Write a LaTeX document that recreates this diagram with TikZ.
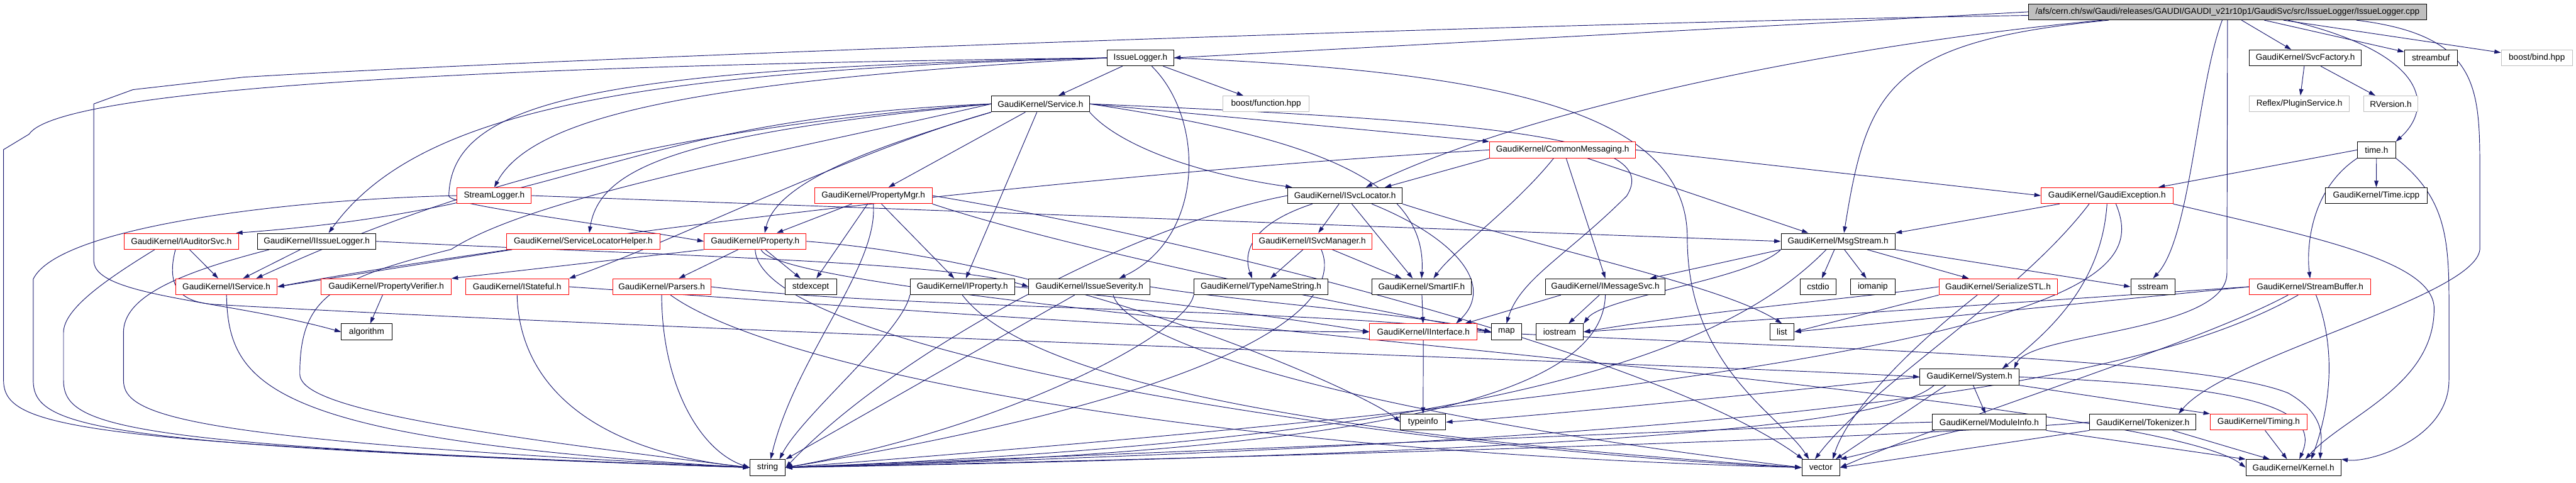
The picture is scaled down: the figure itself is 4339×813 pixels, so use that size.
\documentclass[tikz,border=0pt]{standalone}
\usepackage{fontspec}
\setmainfont{Liberation Sans}
\usepackage{tikz}
\usetikzlibrary{arrows.meta,backgrounds}
\definecolor{edgeblue}{RGB}{25,25,112}
\definecolor{docred}  {RGB}{255,0,0}
\definecolor{extgray} {RGB}{191,191,191}

\begin{document}
\begin{tikzpicture}[
  x=1pt, y=-1pt,
  font=\fontsize{14.4}{17}\selectfont,
  >={Triangle[length=11pt,width=7pt]},
  filebox/.style={draw=black, fill=white, line width=1pt,
                  minimum height=27pt, inner xsep=2pt, inner ysep=0pt},
  redbox/.style={filebox, draw=docred},
  extbox/.style={filebox, draw=extgray},
  rootbox/.style={filebox, fill=extgray},
  inc/.style={draw=edgeblue, line width=1pt, ->},
]
\useasboundingbox (0,0) rectangle (4339,813);

% Top
\node[rootbox, minimum width=670] (root) at (3752,20) {/afs/cern.ch/sw/Gaudi/releases/GAUDI/GAUDI\_v21r10p1/GaudiSvc/src/IssueLogger/IssueLogger.cpp};

% Row 1
\node[filebox, minimum width=112] (il)   at (1921,97.5)   {IssueLogger.h};
\node[filebox, minimum width=188] (svcf) at (3883,97.5)   {GaudiKernel/SvcFactory.h};
\node[filebox, minimum width=89]  (sbuf) at (4094.5,97.5) {streambuf};
\node[extbox,  minimum width=120] (bind) at (4273,97.5)   {boost/bind.hpp};

% Row 2
\node[filebox, minimum width=165] (svc)  at (1752.5,175) {GaudiKernel/Service.h};
\node[extbox,  minimum width=145] (func) at (2132.5,175) {boost/function.hpp};
\node[extbox,  minimum width=168] (plug) at (3873,175)   {Reflex/PluginService.h};
\node[extbox,  minimum width=92]  (rver) at (4027,175)   {RVersion.h};

% Row 3
\node[redbox,  minimum width=246] (cmsg)  at (2632,252.5) {GaudiKernel/CommonMessaging.h};
\node[filebox, minimum width=64]  (timeh) at (4003,252.5) {time.h};

% Row 4
\node[redbox,  minimum width=125] (slog)  at (832.5,329.5)  {StreamLogger.h};
\node[redbox,  minimum width=198] (pmgr)  at (1471,329.5)   {GaudiKernel/PropertyMgr.h};
\node[filebox, minimum width=193] (isl)   at (2265.5,329.5) {GaudiKernel/ISvcLocator.h};
\node[redbox,  minimum width=222] (gexc)  at (3549,329.5)   {GaudiKernel/GaudiException.h};
\node[filebox, minimum width=171] (ticpp) at (4002.5,329.5) {GaudiKernel/Time.icpp};

% Row 5
\node[redbox,  minimum width=193] (iaud) at (305.5,406.5)  {GaudiKernel/IAuditorSvc.h};
\node[filebox, minimum width=199] (iil)  at (533.5,406.5)  {GaudiKernel/IIssueLogger.h};
\node[redbox,  minimum width=259] (slh)  at (982.5,406.5)  {GaudiKernel/ServiceLocatorHelper.h};
\node[redbox,  minimum width=172] (prop) at (1272,406.5)   {GaudiKernel/Property.h};
\node[redbox,  minimum width=201] (ism)  at (2210.5,406.5) {GaudiKernel/ISvcManager.h};
\node[filebox, minimum width=192] (msg)  at (3096,406.5)   {GaudiKernel/MsgStream.h};

% Row 6
\node[redbox,  minimum width=171] (isvc) at (381.5,483)  {GaudiKernel/IService.h};
\node[redbox,  minimum width=219] (pver) at (650.5,483)  {GaudiKernel/PropertyVerifier.h};
\node[redbox,  minimum width=174] (ist)  at (871,483)    {GaudiKernel/IStateful.h};
\node[redbox,  minimum width=165] (pars) at (1114.5,483) {GaudiKernel/Parsers.h};
\node[filebox, minimum width=87]  (stdx) at (1365.5,483) {stdexcept};
\node[filebox, minimum width=176] (iprop) at (1621,483)  {GaudiKernel/IProperty.h};
\node[filebox, minimum width=204] (isev) at (1835,483)   {GaudiKernel/IssueSeverity.h};
\node[filebox, minimum width=226] (tns)  at (2124,483)   {GaudiKernel/TypeNameString.h};
\node[filebox, minimum width=167] (sif)  at (2394.5,483) {GaudiKernel/SmartIF.h};
\node[filebox, minimum width=202] (imsg) at (2704,483)   {GaudiKernel/IMessageSvc.h};
\node[filebox, minimum width=61]  (cstd) at (3062.5,483) {cstdio};
\node[filebox, minimum width=75]  (iom)  at (3154.5,483) {iomanip};
\node[redbox,  minimum width=199] (sstl) at (3365.5,483) {GaudiKernel/SerializeSTL.h};
\node[filebox, minimum width=75]  (sstr) at (3626.5,483) {sstream};
\node[redbox,  minimum width=204] (sbf)  at (3891,483)   {GaudiKernel/StreamBuffer.h};

% Row 7
\node[filebox, minimum width=85]  (algo)  at (617.5,559)  {algorithm};
\node[redbox,  minimum width=181] (iif)   at (2397.5,559) {GaudiKernel/IInterface.h};
\node[filebox, minimum width=51]  (mapn)  at (2537.5,559) {map};
\node[filebox, minimum width=80]  (iost)  at (2627,559)   {iostream};
\node[filebox, minimum width=41]  (listn) at (3001.5,559) {list};

% Row 8 and 9
\node[filebox, minimum width=167] (sys)    at (3317.5,635) {GaudiKernel/System.h};
\node[filebox, minimum width=76]  (tinfo)  at (2397,711)   {typeinfo};
\node[filebox, minimum width=191] (minfo)  at (3350.5,711) {GaudiKernel/ModuleInfo.h};
\node[filebox, minimum width=179] (tok)    at (3609.5,711) {GaudiKernel/Tokenizer.h};
\node[redbox,  minimum width=163] (timing) at (3804.5,711) {GaudiKernel/Timing.h};

% Bottom
\node[filebox, minimum width=60]  (str)  at (1293,787.5) {string};
\node[filebox, minimum width=64]  (vec)  at (3067,787.5) {vector};
\node[filebox, minimum width=160] (kern) at (3863,787.5) {GaudiKernel/Kernel.h};

\begin{scope}[on background layer]
% Edges from the root file
\draw[inc] (root.west) -- (il.east);
\draw[inc] (root) -- (svcf);
\draw[inc] (root) -- (sbuf);
\draw[inc] (root) -- (bind);
\draw[inc] ([xshift=102pt]root.south) .. controls (4090,90) and (4100,180) .. (timeh.north east);
\draw[inc] ([xshift=-210pt]root.south) .. controls (3150,70) and (2600,170) .. ([xshift=35pt]isl.north);
\draw[inc] ([xshift=-200pt]root.south) .. controls (3180,70) and (3145,150) .. ([xshift=10pt]msg.north);
\draw[inc] ([xshift=-9pt]root.south) .. controls (3700,150) and (3690,400) .. (sstr.north);
\draw[inc] (root.south) -- (3751,460) .. controls (3751,560) and (3420,560) .. ([xshift=75pt]sys.north);
\draw[inc] ([xshift=217pt]root.south) .. controls (4180,60) and (4177,150) .. (4177,300) -- (4177,420)
  .. controls (4170,500) and (3750,600) .. ([xshift=60pt]tok.north);
\draw[inc] ([yshift=-6pt]root.west) .. controls (2500,40) and (900,100) .. (410,130) -- (224,151) -- (158,175)
  -- (158,440) .. controls (160,500) and (380,505) .. (algo.west);

% IssueLogger.h
\draw[inc] (il) -- (svc);
\draw[inc] (il) -- (func);
\draw[inc] ([xshift=19pt]il.south) .. controls (2030,200) and (2030,400) .. ([xshift=50pt]isev.north);
\draw[inc] (il.west) .. controls (1200,135) and (900,190) .. (slog.north);
\draw[inc] (il.west) .. controls (1050,120) and (700,190) .. ([xshift=20pt]iil.north);
\draw[inc] (il.west) .. controls (1000,115) and (760,170) .. (756,330) .. controls (756,345) and (1000,375) .. (prop.west);
\draw[inc] (il.west) .. controls (800,110) and (100,150) .. (49,226) -- (6,252) -- (6,640)
  .. controls (6,720) and (120,745) .. (str.west);
\draw[inc] (il.east) .. controls (2500,120) and (2842,180) .. (2842,400) .. controls (2842,620) and (3000,700) .. ([xshift=-20pt]vec.north);

% Service.h
\draw[inc] (svc) -- (pmgr);
\draw[inc] (svc) -- (iprop);
\draw[inc] (svc.west) .. controls (1150,215) and (800,300) .. ([xshift=50pt]isvc.north);
\draw[inc] (svc.west) .. controls (1050,200) and (980,350) .. ([xshift=-5pt]iaud.north east);
\draw[inc] (svc.west) .. controls (1150,225) and (1010,280) .. ([xshift=10pt]slh.north);
\draw[inc] (svc.south west) .. controls (1500,240) and (1310,300) .. ([xshift=16pt]prop.north);
\draw[inc] (svc.south west) .. controls (1450,250) and (1150,400) .. (ist.north east);
\draw[inc] (svc.south east) .. controls (1880,240) and (2000,290) .. ([xshift=8pt]isl.north west);
\draw[inc] (svc.east) -- (cmsg.north west);
\draw[inc] (svc.east) .. controls (2200,230) and (2405,300) .. (sif.north);
\draw[inc] (svc.east) .. controls (2550,205) and (2800,235) .. (2740,330) .. controls (2640,430) and (2560,470) .. (mapn.north);
\draw[inc] (svc.west) .. controls (1300,260) and (900,330) .. (760,420) .. controls (560,470) and (505,500) .. (505,630)
  .. controls (505,680) and (700,720) .. (str.west);

% IAuditorSvc.h, IIssueLogger.h, StreamLogger.h, ServiceLocatorHelper.h
\draw[inc] (iaud) -- (isvc);
\draw[inc] ([xshift=-45pt]iaud.south) .. controls (180,470) and (107,520) .. (107,560) -- (107,640)
  .. controls (107,720) and (200,750) .. (str.west);
\draw[inc] ([xshift=-10pt]iaud.south) .. controls (280,480) and (300,510) .. (365,513) .. controls (1200,560) and (3000,620) .. (sys.west);
\draw[inc] (iil) -- (isvc);
\draw[inc] (iil.east) .. controls (1100,430) and (1600,440) .. (isev.west);
\draw[inc] ([xshift=-80pt]iil.south) .. controls (300,460) and (208,500) .. (208,560) -- (208,640)
  .. controls (208,700) and (300,740) .. (str.west);
\draw[inc] (slog.east) -- (msg.west);
\draw[inc] (slog.west) .. controls (500,335) and (100,380) .. (56,470) -- (56,640) .. controls (56,720) and (150,750) .. (str.west);
\draw[inc] ([xshift=-120pt]slh.south) -- (isvc.east);

% Property.h, PropertyMgr.h, IProperty.h, IssueSeverity.h
\draw[inc] (prop.south west) -- (pver.north east);
\draw[inc] (prop) -- (pars);
\draw[inc] (prop) -- (stdx);
\draw[inc] (prop.south) .. controls (1280,600) and (2400,760) .. (vec.west);
\draw[inc] ([xshift=10pt]prop.south) .. controls (1320,520) and (3600,650) .. (kern.west);
\draw[inc] (prop.east) .. controls (1800,440) and (2300,660) .. (tinfo.west);
\draw[inc] (pmgr) -- (prop);
\draw[inc] (pmgr) -- (stdx);
\draw[inc] (pmgr) -- (iprop);
\draw[inc] (pmgr.south) .. controls (1480,450) and (1340,600) .. ([xshift=5pt]str.north);
\draw[inc] (pmgr.south east) .. controls (1800,420) and (2300,520) .. (mapn.west);
\draw[inc] (pmgr.east) .. controls (2000,400) and (2800,600) .. ([xshift=-30pt]vec.north);
\draw[inc] (iprop.south west) .. controls (1520,560) and (1350,700) .. ([xshift=20pt]str.north);
\draw[inc] (iprop.south) .. controls (1700,600) and (2000,720) .. (vec.west);
\draw[inc] (iprop.east) .. controls (1900,500) and (2200,540) .. (iif.west);
\draw[inc] ([xshift=-25pt]isev.south) -- (str.north east);
\draw[inc] (isev.east) .. controls (2100,510) and (2400,530) .. (mapn.west);
\draw[inc] ([xshift=40pt]isev.south) .. controls (1900,580) and (2300,700) .. (vec.west);

% Parsers.h, PropertyVerifier.h, IStateful.h, IService.h
\draw[inc] (pars.south) .. controls (1115,650) and (1180,760) .. (str.west);
\draw[inc] ([xshift=15pt]pars.south) .. controls (1300,620) and (2000,760) .. (vec.west);
\draw[inc] (pars.east) .. controls (1500,520) and (2200,520) .. (mapn.west);
\draw[inc] (pver) -- (algo);
\draw[inc] (ist.south) .. controls (875,650) and (1000,760) .. (str.west);
\draw[inc] (ist.east) .. controls (1500,520) and (2000,560) .. (iif.west);
\draw[inc] (isvc.south) .. controls (385,650) and (450,740) .. (str.west);

% ISvcLocator.h, ISvcManager.h, TypeNameString.h
\draw[inc] (isl) -- (ism);
\draw[inc] ([xshift=-55pt]isl.south) .. controls (2100,380) and (2095,430) .. ([xshift=-15pt]tns.north);
\draw[inc] (isl) -- ([xshift=-15pt]sif.north);
\draw[inc] ([xshift=45pt]isl.south) .. controls (2450,400) and (2520,480) .. ([xshift=55pt]iif.north);
\draw[inc] (isl.south east) .. controls (2600,420) and (2900,480) .. (listn.north);
\draw[inc] (isl.west) .. controls (1900,380) and (1500,600) .. (str.east);
\draw[inc] (ism) -- (tns);
\draw[inc] (ism) -- (sif);
\draw[inc] ([xshift=15pt]ism.south) .. controls (2260,500) and (2150,650) .. (str.east);
\draw[inc] (tns.south west) .. controls (2000,560) and (1700,720) .. (str.east);

% CommonMessaging.h, IMessageSvc.h, SmartIF.h, IInterface.h
\draw[inc] (cmsg.south west) -- ([xshift=-30pt]isl.north east);
\draw[inc] ([xshift=6pt]cmsg.south) -- (imsg.north);
\draw[inc] (cmsg) -- ([xshift=-50pt]msg.north);
\draw[inc] ([xshift=-15pt]cmsg.south) .. controls (2550,350) and (2450,420) .. ([xshift=20pt]sif.north);
\draw[inc] (cmsg.east) -- (gexc.west);
\draw[inc] (cmsg.west) .. controls (1700,300) and (800,420) .. (isvc.east);
\draw[inc] ([xshift=-75pt]imsg.south) -- ([xshift=70pt]iif.north);
\draw[inc] ([xshift=-10pt]imsg.south) -- ([xshift=15pt]iost.north);
\draw[inc] (imsg.south) .. controls (2700,650) and (2400,760) .. (str.east);
\draw[inc] (sif) -- (iif);
\draw[inc] (iif) -- (tinfo);
\draw[inc] (iif.east) .. controls (3000,585) and (3700,600) .. (3854,662) .. controls (3920,700) and (3910,740) .. ([xshift=45pt]kern.north);

% MsgStream.h, SerializeSTL.h, StreamBuffer.h
\draw[inc] (msg.south west) -- ([xshift=75pt]imsg.north);
\draw[inc] (msg) -- (cstd);
\draw[inc] (msg) -- (iom);
\draw[inc] (msg) -- (sstl);
\draw[inc] (msg.south east) -- (sstr.west);
\draw[inc] ([xshift=-20pt]msg.south) .. controls (2900,600) and (2500,740) .. (str.east);
\draw[inc] (msg.south west) .. controls (2950,470) and (2700,500) .. (iost.north east);
\draw[inc] (sstl.west) .. controls (3150,500) and (2900,520) .. (iost.east);
\draw[inc] (sstl.south west) -- (listn.east);
\draw[inc] ([xshift=-35pt]sstl.south) .. controls (3200,600) and (3110,700) .. ([xshift=20pt]vec.north);
\draw[inc] (sbf.west) -- (iost.east);
\draw[inc] (sbf.west) -- (listn.east);
\draw[inc] ([xshift=-37pt]sbf.south) .. controls (3700,580) and (3300,700) .. (vec.east);
\draw[inc] ([xshift=-20pt]sbf.south) .. controls (3600,650) and (3000,740) .. (str.east);
\draw[inc] ([xshift=10pt]sbf.south) .. controls (3940,600) and (3920,700) .. ([xshift=30pt]kern.north);

% time.h, GaudiException.h
\draw[inc] (timeh.west) -- ([xshift=-25pt]gexc.north east);
\draw[inc] (timeh) -- (ticpp);
\draw[inc] (timeh.south west) .. controls (3890,320) and (3885,420) .. (sbf.north);
\draw[inc] (timeh.south east) .. controls (4130,340) and (4125,420) .. (4125,550) -- (4125,640)
  .. controls (4125,740) and (3990,780) .. (kern.north east);
\draw[inc] ([xshift=-80pt]gexc.south) -- (msg.north east);
\draw[inc] ([xshift=-30pt]gexc.south) .. controls (3400,500) and (3150,650) .. ([xshift=-10pt]vec.north);
\draw[inc] (gexc.south) .. controls (3540,480) and (3450,560) .. ([xshift=55pt]sys.north);
\draw[inc] ([xshift=15pt]gexc.south) .. controls (3620,480) and (3500,620) .. (str.east);
\draw[inc] (gexc.south east) .. controls (3900,400) and (4100,440) .. (4100,520) .. controls (4100,650) and (3950,700) .. ([xshift=20pt]kern.north);

% System.h, ModuleInfo.h, Tokenizer.h, Timing.h
\draw[inc] (sys) -- (minfo);
\draw[inc] (sys.south east) -- (timing.north west);
\draw[inc] (sys.east) .. controls (3800,650) and (3910,690) .. ([xshift=10pt]kern.north);
\draw[inc] ([xshift=-40pt]sys.south) -- ([xshift=25pt]vec.north);
\draw[inc] ([xshift=-60pt]sys.south) .. controls (3200,700) and (2900,760) .. (str.east);
\draw[inc] (sys.west) .. controls (3000,660) and (2600,700) .. (tinfo.east);
\draw[inc] (minfo.south east) -- (kern.north west);
\draw[inc] ([xshift=-50pt]minfo.south) -- (vec.north east);
\draw[inc] (minfo.west) .. controls (3100,715) and (2500,740) .. (str.east);
\draw[inc] ([xshift=50pt]tok.south) -- ([xshift=-40pt]kern.north);
\draw[inc] (tok.south west) -- (vec.east);
\draw[inc] (tok.west) .. controls (3300,730) and (2600,760) .. (str.east);
\draw[inc] (timing) -- (kern);

% SvcFactory.h
\draw[inc] (svcf) -- (plug);
\draw[inc] (svcf) -- (rver);
\end{scope}

\end{tikzpicture}
\end{document}
